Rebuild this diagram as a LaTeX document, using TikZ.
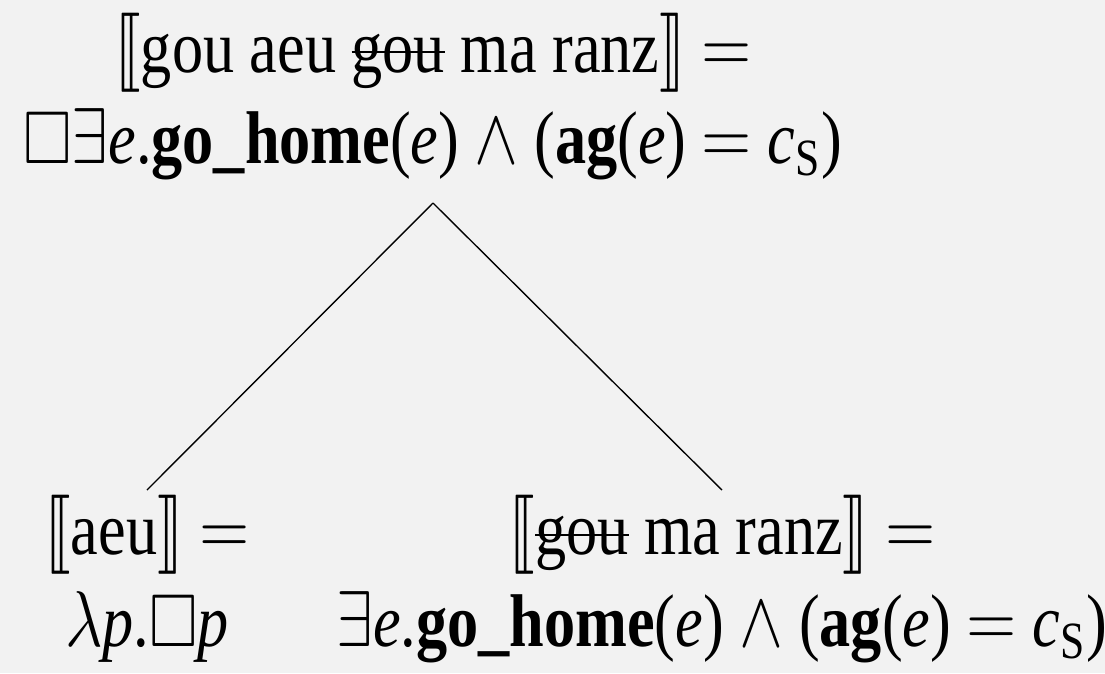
\documentclass[tikz,border=0pt]{standalone}
\usepackage{amssymb}
\usepackage{stmaryrd}
\usepackage{graphicx}
\usepackage{fontspec}
\setmainfont{Liberation Serif}
\usepackage{tikz}
\usetikzlibrary{positioning}
\definecolor{paper}{RGB}{242,242,242}

\newsavebox\strikebox
\newcommand{\strike}[1]{\sbox\strikebox{#1}\rlap{\usebox\strikebox}\rule[0.55ex]{\wd\strikebox}{0.35pt}}
\newcommand{\tall}[1]{\scalebox{1}[1.2]{#1}}
\newcommand{\den}[1]{$\llbracket$#1$\rrbracket$}
\newcommand{\ev}{\textit{e}}
\newcommand{\gohome}{$\exists$\ev.\textbf{go\_home}(\ev) $\wedge$ (\textbf{ag}(\ev) $=$ \textit{c}$_{\mathrm{S}}$)}

\begin{document}
\begin{tikzpicture}[x=0.2185pt,y=-0.2185pt,font=\fontsize{13.6pt}{18.5pt}\selectfont,
  sem/.style={align=center,inner sep=1pt},
  br/.style={line width=0.3pt}]
  \fill[paper](0,0) rectangle (1105,673);
  \useasboundingbox (0,0) rectangle (1105,673);
  % mother node
  \node[sem,anchor=south,outer ysep=4pt](top) at (433,203)
     {\tall{\den{gou aeu \strike{gou} ma ranz} $=$}\\[1.5pt] \tall{$\square$\gohome}};
  % daughters
  \node[sem,anchor=north](aeu) at (147,490)
     {\tall{\den{aeu} $=$}\\[1.5pt] \tall{$\lambda$\textit{p}.$\square$\textit{p}}};
  \node[sem,anchor=north](rest) at (722,490)
     {\tall{\den{\strike{gou} ma ranz} $=$}\\[1.5pt] \tall{\gohome}};
  \draw[br](top.south)--(aeu.north);
  \draw[br](top.south)--(rest.north);
\end{tikzpicture}
\end{document}
